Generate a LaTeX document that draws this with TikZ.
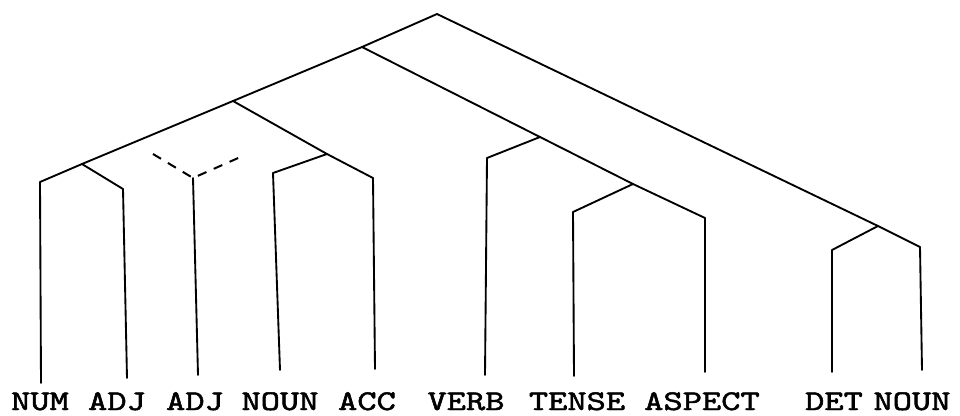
\documentclass[tikz,border=0pt]{standalone}
\usepackage{fontspec}
\newfontfamily\tagfont{lmmono10-regular.otf}[FakeBold=1.6]
\begin{document}
\begin{tikzpicture}[x=0.75pt,y=-0.75pt,
  branch/.style={line width=1.4pt,line cap=round,line join=round},
  guess/.style={line width=1.5pt,dash pattern=on 7pt off 6pt},
  tag/.style={font=\tagfont\fontsize{27.5}{27.5}\selectfont,anchor=base,inner sep=0pt}]
\useasboundingbox (0,0) rectangle (960,415);

% branching points along the spine
\coordinate (root) at (437,14);
\coordinate (j1) at (362,47);
\coordinate (j2) at (233,101);
\coordinate (j3) at (82,164);
\coordinate (j4) at (327,154);
\coordinate (j5) at (540,137);
\coordinate (j6) at (633,184);
\coordinate (j7) at (878,226);

% shoulders where the stems begin
\coordinate (numT) at (40,182);
\coordinate (adjaT) at (123,189);
\coordinate (adjbT) at (193,178);
\coordinate (nounaT) at (273,173);
\coordinate (accT) at (373,178);
\coordinate (verbT) at (487,158);
\coordinate (tenseT) at (573,212);
\coordinate (aspT) at (705,218);
\coordinate (detT) at (832,250);
\coordinate (nounbT) at (920,247);

% feet of the stems
\coordinate (numB) at (41,383);
\coordinate (adjaB) at (127,378);
\coordinate (adjbB) at (198,375);
\coordinate (nounaB) at (280,370);
\coordinate (accB) at (375,369);
\coordinate (verbB) at (485,375);
\coordinate (tenseB) at (574,376);
\coordinate (aspB) at (705,372);
\coordinate (detB) at (832,372);
\coordinate (nounbB) at (922,370);

% ends of the dashed attachment
\coordinate (dl) at (153,154);
\coordinate (dr) at (245,155);

% the tree
\draw[branch] (numT) -- (j3) -- (j2) -- (j1) -- (root) -- (j7) -- (nounbT);
\draw[branch] (j3) -- (adjaT);
\draw[branch] (j2) -- (j4) -- (accT);
\draw[branch] (j4) -- (nounaT);
\draw[branch] (j1) -- (j5) -- (j6) -- (aspT);
\draw[branch] (j5) -- (verbT);
\draw[branch] (j6) -- (tenseT);
\draw[branch] (j7) -- (detT);
\draw[guess] (dl) -- (adjbT) -- (dr);

% stems
\foreach \s in {num,adja,adjb,nouna,acc,verb,tense,asp,det,nounb}
  \draw[branch] (\s T) -- (\s B);

% leaf labels, set in a squat typewriter face
\newcommand\squat[1]{\scalebox{1}[0.78]{#1}}
\node[tag] (lnum) at (40,410) {\squat{NUM}};
\node[tag] (ladja) at (117,410) {\squat{ADJ}};
\node[tag] (ladjb) at (195,410) {\squat{ADJ}};
\node[tag] (lnouna) at (280,410) {\squat{NOUN}};
\node[tag] (lacc) at (367,410) {\squat{ACC}};
\node[tag] (lverb) at (466,410) {\squat{VERB}};
\node[tag] (ltense) at (577,410) {\squat{TENSE}};
\node[tag] (lasp) at (702,410) {\squat{ASPECT}};
\node[tag] (ldet) at (834,410) {\squat{DET}};
\node[tag] (lnounb) at (912,410) {\squat{NOUN}};
\end{tikzpicture}
\end{document}
